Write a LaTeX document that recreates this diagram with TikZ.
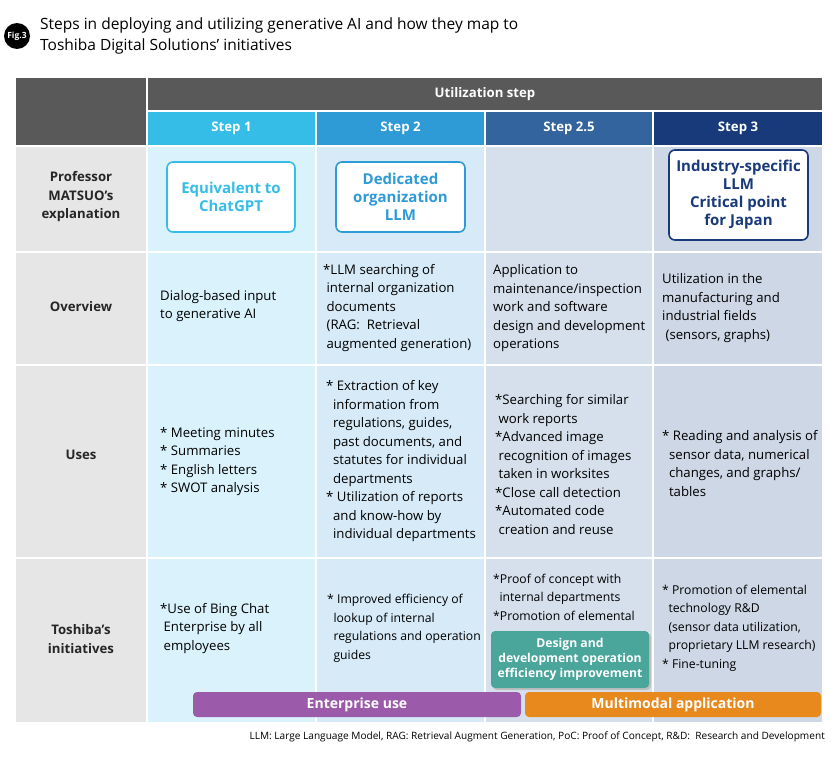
\documentclass[tikz,border=0pt]{standalone}
\usepackage{fontspec}
\setmainfont{Open Sans}
\begin{document}
\begin{tikzpicture}[x=1pt,y=-1pt,
 txt/.style={anchor=west,align=left,font=\fontsize{13.2}{18.5}\selectfont,inner sep=0pt},
 stxt/.style={anchor=west,align=left,font=\fontsize{12.2}{18.5}\selectfont,inner sep=0pt},
 rowlab/.style={align=center,font=\bfseries\fontsize{13.2}{18.5}\selectfont,text=black!85},
 hdr/.style={font=\bfseries\fontsize{13.2}{16}\selectfont,text=white},
 mbox/.style={draw=#1,fill=white,line width=1.6pt,rounded corners=6pt,align=center,text=#1,font=\bfseries\fontsize{15}{18}\selectfont},
 bar/.style={fill=#1,rounded corners=4pt}]
\useasboundingbox (0,0) rectangle (840,757);
\definecolor{cA}{HTML}{35BDE8}\definecolor{cB}{HTML}{2E9AD6}
\definecolor{cC}{HTML}{33649E}\definecolor{cD}{HTML}{193A7A}
\definecolor{bA}{HTML}{DAF2FB}\definecolor{bB}{HTML}{D6EAF7}
\definecolor{bC}{HTML}{D5E0EC}\definecolor{bD}{HTML}{CDD7E5}
\definecolor{gL}{HTML}{E6E6E6}\definecolor{gD}{HTML}{5A595A}
\definecolor{tl}{HTML}{4AA59B}\definecolor{pu}{HTML}{9B5BAA}\definecolor{orr}{HTML}{E8891E}
% title
\fill[black] (17,36) circle (13);
\node[text=white,font=\bfseries\fontsize{8.5}{9}\selectfont,inner sep=0pt] (badge) at (17,36) {Fig.3};
\node[anchor=west,align=left,font=\fontsize{15.5}{21}\selectfont,inner sep=0pt] (title) at (40,35.5) {Steps in deploying and utilizing generative AI and how they map to\\Toshiba Digital Solutions’ initiatives};
% header
\fill[gD] (16,78) rectangle (146,145);
\fill[gD] (148,78) rectangle (822,110);
\node[hdr] (ut) at (485,94) {Utilization step};
\fill[cA] (148,112) rectangle (315,145);
\fill[cB] (317,112) rectangle (484,145);
\fill[cC] (486,112) rectangle (652,145);
\fill[cD] (654,112) rectangle (822,145);
\node[hdr] (s1) at (231.5,128.5) {Step 1};
\node[hdr] (s2) at (400.5,128.5) {Step 2};
\node[hdr] (s3) at (569,128.5) {Step 2.5};
\node[hdr] (s4) at (738,128.5) {Step 3};
% body
\foreach \ya/\yb in {147/251,253/364,366/557,559/722}{
 \fill[gL] (16,\ya) rectangle (146,\yb);
 \fill[bA] (148,\ya) rectangle (315,\yb);
 \fill[bB] (317,\ya) rectangle (484,\yb);
 \fill[bC] (486,\ya) rectangle (652,\yb);
 \fill[bD] (654,\ya) rectangle (822,\yb);}
\node[rowlab] (r1) at (81,197) {Professor\\MATSUO’s\\explanation};
\node[rowlab] (r2) at (81,307) {Overview};
\node[rowlab] (r3) at (81,455) {Uses};
\node[rowlab] (r4) at (81,639) {Toshiba’s\\initiatives};
% row 1
\node[mbox=cA,minimum width=128pt,minimum height=70pt] (m1) at (231,197) {Equivalent to\\ChatGPT};
\node[mbox=cB,minimum width=129pt,minimum height=70pt] (m2) at (400.5,197) {Dedicated\\organization\\LLM};
\node[mbox=cD,minimum width=139pt,minimum height=90pt] (m4) at (738.5,195) {Industry-specific\\LLM\\Critical point\\for Japan};
% row 2
\node[txt] (o1) at (160,306) {Dialog-based input\\to generative AI};
\node[txt] (o2) at (323,308) {*LLM searching of\\\ internal organization\\\ documents\\\ (RAG:\ \ Retrieval\\\ augmented generation)};
\node[txt] (o3) at (493,308.5) {Application to\\maintenance/inspection\\work and software\\design and development\\operations};
\node[txt] (o4) at (662,308) {Utilization in the\\manufacturing and\\industrial fields\\\ (sensors, graphs)};
% row 3
\node[txt] (u1) at (160,461.5) {* Meeting minutes\\* Summaries\\* English letters\\* SWOT analysis};
\node[txt] (u2) at (326,461.5) {* Extraction of key\\\ \ information from\\\ \ regulations, guides,\\\ \ past documents, and\\\ \ statutes for individual\\\ \ departments\\* Utilization of reports\\\ \ and know-how by\\\ \ individual departments};
\node[txt] (u3) at (495,464.5) {*Searching for similar\\\ work reports\\*Advanced image\\\ recognition of images\\\ taken in worksites\\*Close call detection\\*Automated code\\\ creation and reuse};
\node[txt] (u4) at (662,463.5) {* Reading and analysis of\\\ \ sensor data, numerical\\\ \ changes, and graphs/\\\ \ tables};
% row 4
\node[txt] (t1) at (160,628.5) {*Use of Bing Chat\\\ Enterprise by all\\\ employees};
\node[stxt] (t2) at (327,628.5) {* Improved efficiency of\\\ \ lookup of internal\\\ \ regulations and operation\\\ \ guides};
\node[stxt] (t3) at (493,597) {*Proof of concept with\\\ \ internal departments\\*Promotion of elemental};
\node[stxt] (t4) at (662,628) {* Promotion of elemental\\\ \ technology R\&D\\\ \ (sensor data utilization,\\\ \ proprietary LLM research)\\* Fine-tuning};
\fill[black!25] (493,633) [rounded corners=4pt] rectangle (651,690);
\fill[tl,rounded corners=4pt] (491,631) rectangle (649,688);
\node[align=center,text=white,font=\bfseries\fontsize{12.2}{15}\selectfont] (teal) at (570,659.5) {Design and\\development operation\\efficiency improvement};
\fill[bar=pu] (193,692) rectangle (521,717);
\fill[bar=orr] (525,692) rectangle (821,717);
\node[text=white,font=\bfseries\fontsize{14}{16}\selectfont] (ent) at (357,704.5) {Enterprise use};
\node[text=white,font=\bfseries\fontsize{14}{16}\selectfont] (mm) at (673,704.5) {Multimodal application};
\node[anchor=east,font=\fontsize{10.1}{12}\selectfont,inner sep=0pt] (foot) at (825,737) {LLM: Large Language Model, RAG: Retrieval Augment Generation, PoC: Proof of Concept, R\&D:\ \ Research and Development};
\end{tikzpicture}
\end{document}
